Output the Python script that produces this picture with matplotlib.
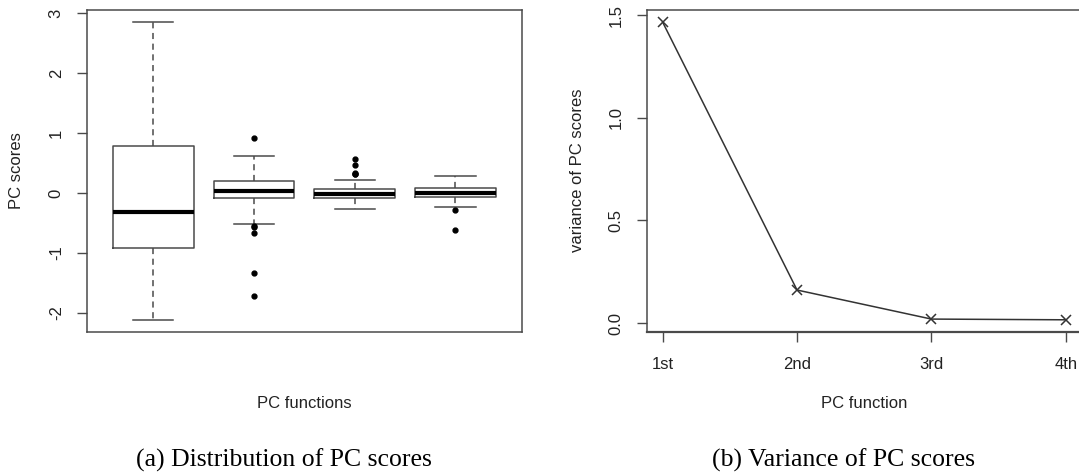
import matplotlib
matplotlib.use("Agg")
import matplotlib.pyplot as plt

# ---- data ----
# (a) boxplot summary of PC scores for the 4 PC functions
box_whislo = [-2.11, -0.525, -0.26, -0.24]
box_q1 = [-0.925, -0.09, -0.09, -0.06]
box_med = [-0.31, 0.04, -0.015, 0.0]
box_q3 = [0.775, 0.20, 0.064, 0.075]
box_whishi = [2.85, 0.62, 0.21, 0.29]
box_fliers = [
    [],
    [0.91, -0.55, -0.575, -0.67, -1.33, -1.72],
    [0.56, 0.46, 0.34, 0.31, 0.32],
    [-0.285, -0.62],
]

# (b) variance of PC scores
pc_labels = ["1st", "2nd", "3rd", "4th"]
pc_variance = [1.466, 0.161, 0.0195, 0.016]

plt.rcParams['font.family'] = ['Liberation Sans', 'DejaVu Sans']
edge = '#4a4a4a'

fig = plt.figure(figsize=(10.79, 4.76), dpi=100)
ax1 = fig.add_axes([86.7 / 1079, 1 - 331.5 / 476, 435.3 / 1079, 321.5 / 476])
ax2 = fig.add_axes([646.5 / 1079, 1 - 331.5 / 476, 435.5 / 1079, 321.5 / 476])

# ---- (a) boxplot ----
stats = []
for i in range(4):
    stats.append(dict(whislo=box_whislo[i], q1=box_q1[i], med=box_med[i],
                      q3=box_q3[i], whishi=box_whishi[i], fliers=box_fliers[i]))

ax1.bxp(stats, positions=[1, 2, 3, 4], widths=0.8, showfliers=True,
        boxprops=dict(color=edge, linewidth=1.1),
        medianprops=dict(color='black', linewidth=3, solid_capstyle='butt'),
        whiskerprops=dict(color=edge, linewidth=1.1, linestyle=(0, (4, 3))),
        capprops=dict(color=edge, linewidth=1.1),
        capwidths=0.4,
        flierprops=dict(marker='o', markerfacecolor='black', markeredgecolor='black',
                        markersize=3.5, linestyle='none'))
ax1.set_xlim(0.34, 4.66)
ax1.set_ylim(-2.31, 3.05)
ax1.set_xticks([])
ax1.set_yticks([-2, -1, 0, 1, 2, 3])
ax1.set_yticklabels(['-2', '-1', '0', '1', '2', '3'])
ax1.set_xlabel('PC functions', fontsize=12, color='#222222')
ax1.xaxis.set_label_coords(0.5, (331.5 - 403) / 321.5)
ax1.xaxis.label.set_va('center')
ax1.set_ylabel('PC scores', fontsize=12, color='#222222')
ax1.yaxis.set_label_coords((17 - 86.7) / 435.3, 0.5)
ax1.yaxis.label.set_va('center')

# ---- (b) variance line ----
xpos = [1, 2, 3, 4]
ax2.plot(xpos, pc_variance, color='#333333', linewidth=1.1,
         marker='x', markersize=7, markeredgewidth=1.1)
ax2.set_xlim(0.88, 4.12)
ax2.set_ylim(-0.041, 1.525)
ax2.set_xticks(xpos)
ax2.set_xticklabels(pc_labels)
ax2.set_yticks([0.0, 0.5, 1.0, 1.5])
ax2.set_yticklabels(['0.0', '0.5', '1.0', '1.5'])
ax2.set_xlabel('PC function', fontsize=12, color='#222222')
ax2.xaxis.set_label_coords((864 - 646.5) / 435.5, (331.5 - 403) / 321.5)
ax2.xaxis.label.set_va('center')
ax2.set_ylabel('variance of PC scores', fontsize=12, color='#222222')
ax2.yaxis.set_label_coords((578 - 646.5) / 435.5, 0.5)
ax2.yaxis.label.set_va('center')

for ax in (ax1, ax2):
    for sp in ax.spines.values():
        sp.set_color(edge)
        sp.set_linewidth(1.1)
    ax.tick_params(axis='both', direction='out', length=7.5, width=1.0,
                   color=edge, labelsize=12, labelcolor='#222222', pad=9)
    for lab in ax.get_yticklabels():
        lab.set_rotation(90)
        lab.set_va('center')
        lab.set_ha('right')
ax2.tick_params(axis='x', pad=11)

# box frame plus R's axis line overlap at the bottom
ax2.spines['bottom'].set_linewidth(1.6)

# captions
fig.text(284 / 1079, 1 - 460 / 476, '(a) Distribution of PC scores',
         family=['Liberation Serif', 'DejaVu Serif'], fontsize=18.5,
         ha='center', va='center')
fig.text(844 / 1079, 1 - 460 / 476, '(b) Variance of PC scores',
         family=['Liberation Serif', 'DejaVu Serif'], fontsize=18.5,
         ha='center', va='center')

fig.savefig('out.png', dpi=100)
